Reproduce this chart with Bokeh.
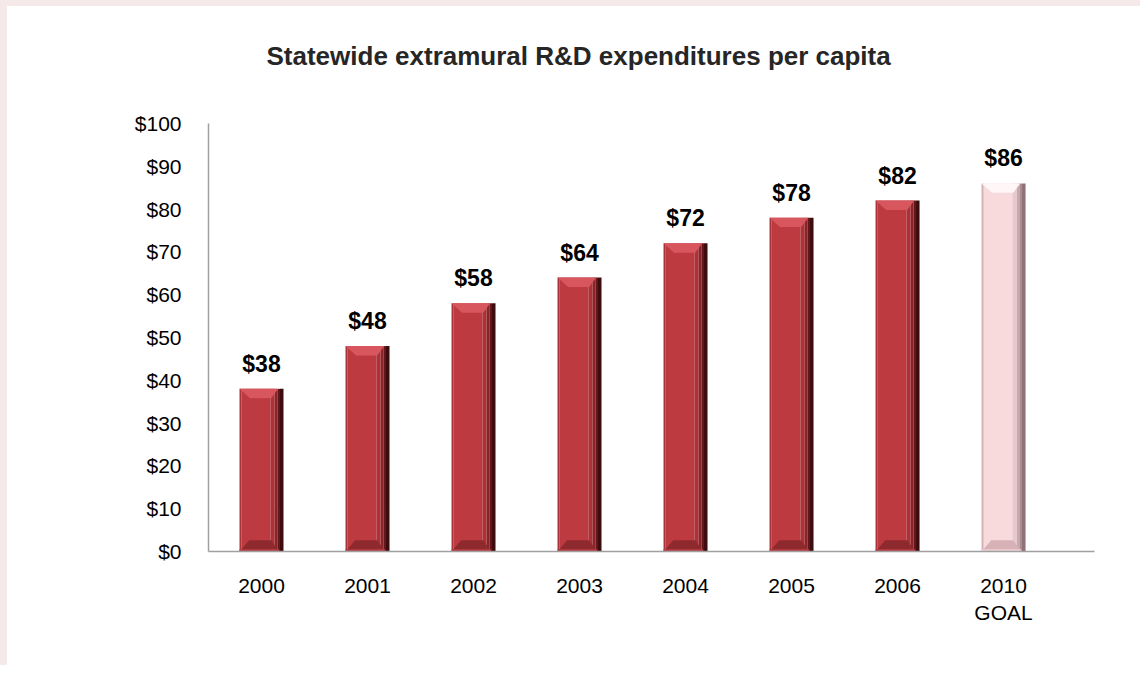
from bokeh.plotting import figure
from bokeh.models import Range1d, FixedTicker, ColumnDataSource, InlineStyleSheet, Title
from bokeh.core.properties import value
from bokeh.embed import file_html
from bokeh.resources import INLINE

# ---- data ----
categories = ["2000", "2001", "2002", "2003", "2004", "2005", "2006", "2010\nGOAL"]
values = [38, 48, 58, 64, 72, 78, 82, 86]
value_labels = ["$38", "$48", "$58", "$64", "$72", "$78", "$82", "$86"]
is_goal = [False, False, False, False, False, False, False, True]
y_ticks = [0, 10, 20, 30, 40, 50, 60, 70, 80, 90, 100]
y_tick_labels = ["$0", "$10", "$20", "$30", "$40", "$50", "$60", "$70", "$80", "$90", "$100"]
title_text = "Statewide extramural R&D expenditures per capita"

# ---- styles ----
FONT = "Liberation Sans"
PINK = "#F6E9EA"
BAR_W = 0.415
STRIPES = [
    (0.00, 0.05, "#A8343A", "#D2B0B4"),
    (0.05, 0.70, "#BC3A40", "#F8DADD"),
    (0.70, 0.80, "#AC3238", "#E8C8CC"),
    (0.80, 0.86, "#8A2428", "#CAA8AC"),
    (0.86, 0.92, "#62171A", "#AA8C90"),
    (0.92, 1.00, "#3E0C0E", "#8E7276"),
]
TOP_BEVEL = ("#D8565E", "#FFF6F7")
BOTTOM_BEVEL = ("#8E2A2E", "#D6B2B6")
BOTTOM_LINE = ("#B83C44", "#EED0D4")

x = list(range(len(categories)))

p = figure(width=1140, height=665, output_backend="svg", toolbar_location=None,
           x_range=Range1d(-0.5, 7.858), y_range=Range1d(0, 100),
           min_border_left=208, min_border_right=46,
           min_border_top=123, min_border_bottom=114)
p.outline_line_color = None
p.xgrid.grid_line_color = None
p.ygrid.grid_line_color = None
p.background_fill_color = "white"
p.border_fill_color = None
p.stylesheets = [InlineStyleSheet(
    css=":host { background-color: #FFFFFF; box-shadow: inset 7px 6px 0 0 %s; }" % PINK)]

# visible chart title (outermost item of the top panel)
p.title.text = title_text
p.title.align = "left"
p.title.offset = 58
p.title.standoff = 0
p.title.text_font = FONT
p.title.text_font_style = "bold"
p.title.text_font_size = "26px"
p.title.text_color = "#262626"

# white-on-white spacer between the title and the plot area
p.add_layout(Title(text=".", text_font_size="2px", text_color="#FFFFFF", standoff=50), "above")

# bars: vertical shaded stripes
for fs, fe, c_red, c_goal in STRIPES:
    left = [xi - BAR_W / 2 + fs * BAR_W for xi in x]
    right = [xi - BAR_W / 2 + fe * BAR_W for xi in x]
    cols = [c_goal if g else c_red for g in is_goal]
    p.quad(left=left, right=right, bottom=0, top=values, fill_color=cols, line_color=None)

# top bevel
top_d = 2.2
xs_top, ys_top = [], []
for xi, v in zip(x, values):
    l = xi - BAR_W / 2
    xs_top.append([l, l + 0.88 * BAR_W, l + 0.72 * BAR_W, l + 0.24 * BAR_W])
    ys_top.append([v, v, v - top_d, v - top_d])
p.patches(xs_top, ys_top, fill_color=[TOP_BEVEL[1] if g else TOP_BEVEL[0] for g in is_goal],
          line_color=None)

# bottom bevel
bot_d = 2.6
xs_bot, ys_bot = [], []
for xi, v in zip(x, values):
    l = xi - BAR_W / 2
    xs_bot.append([l, l + 0.90 * BAR_W, l + 0.72 * BAR_W, l + 0.22 * BAR_W])
    ys_bot.append([0, 0, bot_d, bot_d])
p.patches(xs_bot, ys_bot, fill_color=[BOTTOM_BEVEL[1] if g else BOTTOM_BEVEL[0] for g in is_goal],
          line_color=None)
p.quad(left=[xi - BAR_W / 2 for xi in x], right=[xi - BAR_W / 2 + 0.90 * BAR_W for xi in x],
       bottom=0, top=0.5, fill_color=[BOTTOM_LINE[1] if g else BOTTOM_LINE[0] for g in is_goal],
       line_color=None)

# value labels
src = ColumnDataSource(dict(x=x, y=values, t=value_labels))
p.text(x="x", y="y", text="t", source=src, y_offset=-25,
       text_align="center", text_baseline="alphabetic",
       text_font=value(FONT), text_font_style="bold", text_font_size="23px",
       text_color="#000000")

# axes
p.xaxis.ticker = FixedTicker(ticks=x)
p.xaxis.major_label_overrides = {i: c for i, c in zip(x, categories)}
p.yaxis.ticker = FixedTicker(ticks=y_ticks)
p.yaxis.major_label_overrides = {t: l for t, l in zip(y_ticks, y_tick_labels)}
for ax in (p.xaxis[0], p.yaxis[0]):
    ax.axis_line_color = "#A0A0A0"
    ax.axis_line_width = 1.5
    ax.major_tick_line_color = None
    ax.minor_tick_line_color = None
    ax.major_tick_out = 0
    ax.major_tick_in = 0
    ax.major_label_text_font = FONT
    ax.major_label_text_font_size = "21px"
    ax.major_label_text_color = "#000000"
p.xaxis.major_label_standoff = 22
p.yaxis.major_label_standoff = 27

open("out.html", "w").write(file_html(p, INLINE))
